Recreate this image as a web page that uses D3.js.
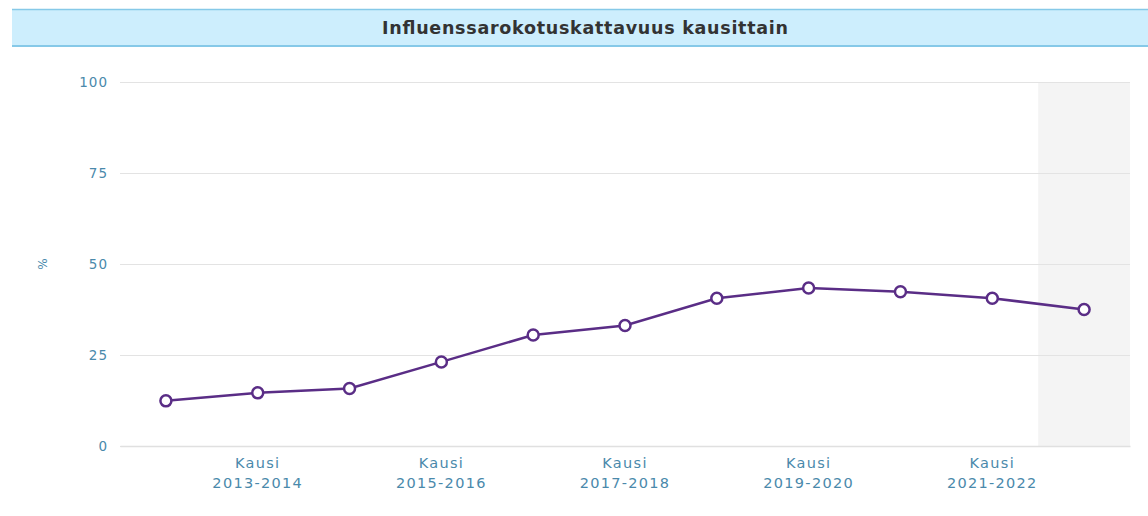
<!DOCTYPE html>
<html>
<head>
<meta charset="utf-8">
<script src="https://cdn.jsdelivr.net/npm/d3@7"></script>
<style>
  body { margin: 0; background: #fff; }
  svg { display: block; }
  svg text { font-family: "DejaVu Sans", Verdana, sans-serif; }
</style>
</head>
<body>
<div id="chart"></div>
<script>
// seasons and coverage (%)
var seasons = ["2012-2013", "2013-2014", "2014-2015", "2015-2016", "2016-2017", "2017-2018",
               "2018-2019", "2019-2020", "2020-2021", "2021-2022", "2022-2023"];
var coverage = [12.4, 14.6, 15.8, 23.1, 30.5, 33.1, 40.6, 43.4, 42.4, 40.6, 37.5];
var yTicks = [0, 25, 50, 75, 100];
var shadedSeason = "2022-2023"; // ongoing season

var width = 1148, height = 516;
var margin = {top: 82, right: 18, bottom: 70, left: 120};
var labelColour = "#4a89ab";
var lineColour = "#5a2d86";

var svg = d3.select("#chart")
    .append("svg")
    .attr("width", width)
    .attr("height", height);

// title bar
svg.append("rect")
    .attr("x", 12).attr("y", 9)
    .attr("width", width - 12).attr("height", 37)
    .attr("fill", "#cdeefd");
svg.append("line")
    .attr("x1", 12).attr("x2", width).attr("y1", 9.5).attr("y2", 9.5)
    .attr("stroke", "#86c9e8").attr("stroke-width", 1.5);
svg.append("line")
    .attr("x1", 12).attr("x2", width).attr("y1", 46).attr("y2", 46)
    .attr("stroke", "#86c9e8").attr("stroke-width", 2);
svg.append("text")
    .attr("x", 585).attr("y", 34)
    .attr("text-anchor", "middle")
    .attr("textLength", 406)
    .attr("lengthAdjust", "spacing")
    .style("font-size", "17.5px")
    .style("font-weight", "bold")
    .style("fill", "#333")
    .text("Influenssarokotuskattavuus kausittain");

var x = d3.scaleBand()
    .domain(seasons)
    .range([margin.left, width - margin.right]);
var y = d3.scaleLinear()
    .domain([0, 100])
    .range([height - margin.bottom, margin.top]);

// shaded band for last season
svg.append("rect")
    .attr("x", x(shadedSeason))
    .attr("y", y(100))
    .attr("width", x.bandwidth())
    .attr("height", y(0) - y(100))
    .attr("fill", "#f4f4f4");

// grid + y labels
var yAxis = svg.append("g")
    .attr("transform", "translate(" + margin.left + ",0)")
    .call(d3.axisLeft(y).tickValues(yTicks).tickSize(-(width - margin.left - margin.right)).tickPadding(12));
yAxis.select(".domain").remove();
yAxis.selectAll(".tick line").attr("stroke", "#e3e3e3").attr("stroke-width", 1.2);
yAxis.selectAll(".tick text")
    .attr("dy", "0.36em")
    .style("font-size", "13.5px")
    .style("letter-spacing", "1px")
    .style("fill", labelColour);

// x axis
var xAxis = svg.append("g")
    .attr("transform", "translate(0," + y(0) + ")")
    .call(d3.axisBottom(x).tickSize(0).tickValues(seasons.filter(function(d, i) { return i % 2 == 1; })));
xAxis.select(".domain").attr("stroke", "#e0e0e0").attr("stroke-width", 1.5);
xAxis.selectAll(".tick text").remove();
xAxis.selectAll(".tick").each(function(d) {
  var t = d3.select(this).append("text")
      .attr("text-anchor", "middle")
      .style("font-size", "14.5px")
      .style("letter-spacing", "1.3px")
      .style("fill", labelColour);
  t.append("tspan").attr("x", 0).attr("y", 22).text("Kausi");
  t.append("tspan").attr("x", 0).attr("y", 42).text(d);
});

// y title
svg.append("text")
    .attr("transform", "translate(47,264) rotate(-90)")
    .attr("text-anchor", "middle")
    .style("font-size", "12px")
    .style("fill", labelColour)
    .text("%");

// line
var line = d3.line()
    .x(function(d, i) { return x(seasons[i]) + x.bandwidth() / 2; })
    .y(function(d) { return y(d); });
svg.append("path")
    .datum(coverage)
    .attr("d", line)
    .attr("fill", "none")
    .attr("stroke", lineColour)
    .attr("stroke-width", 2.5);

svg.selectAll("circle.pt")
    .data(coverage)
    .enter()
    .append("circle")
    .attr("class", "pt")
    .attr("cx", function(d, i) { return x(seasons[i]) + x.bandwidth() / 2; })
    .attr("cy", function(d) { return y(d); })
    .attr("r", 5.5)
    .attr("fill", "#fff")
    .attr("stroke", lineColour)
    .attr("stroke-width", 2.5);
</script>
</body>
</html>
